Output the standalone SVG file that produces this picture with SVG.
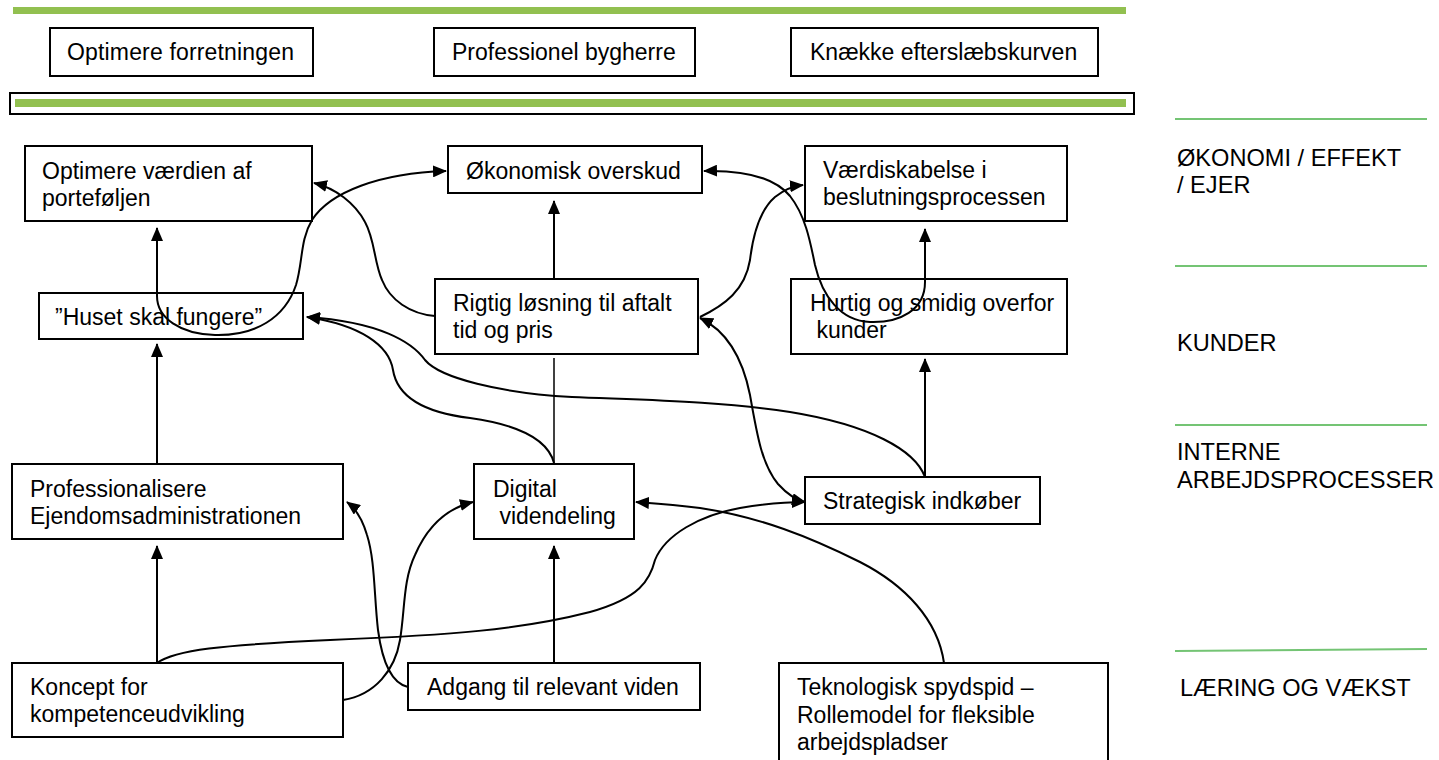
<svg xmlns="http://www.w3.org/2000/svg" width="1439" height="760" viewBox="0 0 1439 760">
<style>
.box{fill:#fff;stroke:#000;stroke-width:2}
.t{font-family:"Liberation Sans",Arial,Helvetica,sans-serif;font-size:23px;fill:#000}
.l{font-family:"Liberation Sans",Arial,Helvetica,sans-serif;font-size:23.6px;fill:#000}
.c{fill:none;stroke:#000;stroke-width:2}
.thin{fill:none;stroke:#000;stroke-width:1.5}
.g{stroke:#74c474;stroke-width:2;fill:none}
</style>
<defs>
<marker id="ah" viewBox="0 0 14 12" refX="13" refY="6" markerWidth="14" markerHeight="12" markerUnits="userSpaceOnUse" orient="auto-start-reverse">
<path d="M0,0 L14,6 L0,12 z" fill="#000"/>
</marker>
</defs>
<rect width="1439" height="760" fill="#fff"/>

<g id="header">
<rect x="13" y="7" width="1113" height="7" fill="#92c050"/>
<rect x="10" y="93" width="1124" height="21" fill="#fff" stroke="#000" stroke-width="2"/>
<rect x="15" y="99" width="1111" height="8" fill="#92c050"/>
</g>

<g id="goal1"><rect class="box" x="50" y="28" width="263" height="48" stroke-width="1.5"/><text class="t" x="67" y="60" textLength="227">Optimere forretningen</text></g>
<g id="goal2"><rect class="box" x="434" y="28" width="261" height="48" stroke-width="1.5"/><text class="t" x="452" y="60">Professionel bygherre</text></g>
<g id="goal3"><rect class="box" x="791" y="28" width="307" height="48" stroke-width="2.5"/><text class="t" x="810" y="60">Knække efterslæbskurven</text></g>

<g id="lanes">
<line class="g" x1="1175" y1="119" x2="1427" y2="119"/>
<line class="g" x1="1175" y1="266" x2="1427" y2="266"/>
<line class="g" x1="1175" y1="425" x2="1427" y2="425"/>
<line class="g" x1="1175" y1="651" x2="1427" y2="649"/>
<text class="l" x="1177" y="166">ØKONOMI / EFFEKT</text>
<text class="l" x="1177" y="193">/ EJER</text>
<text class="l" x="1177" y="351">KUNDER</text>
<text class="l" x="1177" y="460">INTERNE</text>
<text class="l" x="1177" y="488">ARBEJDSPROCESSER</text>
<text class="l" x="1180" y="696">LÆRING OG VÆKST</text>
</g>

<g id="n-optimere-vaerdien"><rect class="box" x="25" y="146" width="287" height="75"/><text class="t" x="42" y="179">Optimere værdien af</text><text class="t" x="42" y="206">porteføljen</text></g>
<g id="n-oekonomisk"><rect class="box" x="448" y="146" width="254" height="47"/><text class="t" x="466" y="179">Økonomisk overskud</text></g>
<g id="n-vaerdiskabelse"><rect class="box" x="805" y="146" width="262" height="75"/><text class="t" x="823" y="178">Værdiskabelse i</text><text class="t" x="823" y="205">beslutningsprocessen</text></g>
<g id="n-huset"><rect class="box" x="39" y="293" width="264" height="46"/><text class="t" x="55" y="325">”Huset skal fungere”</text></g>
<g id="n-rigtig"><rect class="box" x="435" y="279" width="263" height="75"/><text class="t" x="453" y="311">Rigtig løsning til aftalt</text><text class="t" x="453" y="338">tid og pris</text></g>
<g id="n-hurtig"><rect class="box" x="791" y="279" width="276" height="75"/><text class="t" x="810" y="311">Hurtig og smidig overfor</text><text class="t" x="810" y="338" xml:space="preserve"> kunder</text></g>
<g id="n-professionalisere"><rect class="box" x="12" y="464" width="331" height="75"/><text class="t" x="30" y="497">Professionalisere</text><text class="t" x="30" y="524">Ejendomsadministrationen</text></g>
<g id="n-digital"><rect class="box" x="474" y="464" width="160" height="75"/><text class="t" x="493" y="497">Digital</text><text class="t" x="493" y="524" xml:space="preserve"> videndeling</text></g>
<g id="n-strategisk"><rect class="box" x="805" y="477" width="235" height="47"/><text class="t" x="823" y="509">Strategisk indkøber</text></g>
<g id="n-koncept"><rect class="box" x="12" y="663" width="331" height="74"/><text class="t" x="30" y="695">Koncept for</text><text class="t" x="30" y="722">kompetenceudvikling</text></g>
<g id="n-adgang"><rect class="box" x="408" y="663" width="292" height="47"/><text class="t" x="427" y="695">Adgang til relevant viden</text></g>
<g id="n-teknologisk"><rect class="box" x="779" y="663" width="329" height="110"/><text class="t" x="797" y="695">Teknologisk spydspid –</text><text class="t" x="797" y="723">Rollemodel for fleksible</text><text class="t" x="797" y="750">arbejdspladser</text></g>

<g id="connectors">
<path class="c" d="M157,228 L157,296 C157,318 180,334 215,335 C255,336 285,318 296,285 C303,262 300,240 312,220 C330,192 380,173 446,171" marker-start="url(#ah)" marker-end="url(#ah)"/>
<path class="c" d="M925,229 L925,282 C925,310 900,323 870,322 C840,321 822,295 815,265 C810,240 805,215 790,196 C775,178 745,170 704,171" marker-start="url(#ah)" marker-end="url(#ah)"/>
<path class="c" d="M435,316 C410,314 390,300 382,280 C374,262 375,240 365,222 C355,203 335,188 314,183" marker-end="url(#ah)"/>
<path class="c" d="M700,317 C725,305 745,290 750,260 C753,235 760,210 775,197 C785,189 793,186 803,185" marker-end="url(#ah)"/>
<path class="c" d="M700,318 C725,330 742,355 750,395 C757,435 762,465 778,484 C788,495 796,500 805,502" marker-start="url(#ah)" marker-end="url(#ah)"/>
<path class="c" d="M554,463 C548,440 520,425 470,418 C420,412 397,395 393,370 C389,345 360,325 307,317" marker-end="url(#ah)"/>
<path class="c" d="M925,477 C915,450 870,425 790,412 C720,401 640,400 572,397 C500,393 440,378 425,360 C412,342 380,322 307,317" marker-end="url(#ah)"/>
<path class="c" d="M343,700 C375,695 395,670 400,640 C405,610 403,580 415,555 C428,525 448,508 473,502" marker-end="url(#ah)"/>
<path class="c" d="M408,687 C390,683 382,660 378,630 C374,595 375,560 367,535 C362,518 355,508 347,502" marker-end="url(#ah)"/>
<path class="c" d="M157,663 C175,650 220,645 330,640 C450,635 520,630 590,612 C640,598 650,580 655,560 C665,535 700,515 740,508 C770,503 790,502 805,502" marker-end="url(#ah)"/>
<path class="c" d="M944,663 C938,620 905,585 860,562 C810,537 760,517 700,508 C670,504 650,503 636,502" marker-end="url(#ah)"/>
<path class="c" d="M157,663 L157,546" marker-end="url(#ah)"/>
<path class="c" d="M157,464 L157,344" marker-end="url(#ah)"/>
<path class="c" d="M554,279 L554,201" marker-end="url(#ah)"/>
<path class="thin" d="M554,358 L554,463"/>
<path class="c" d="M554,663 L554,546" marker-end="url(#ah)"/>
<path class="c" d="M925,477 L925,359" marker-end="url(#ah)"/>
</g>
</svg>
